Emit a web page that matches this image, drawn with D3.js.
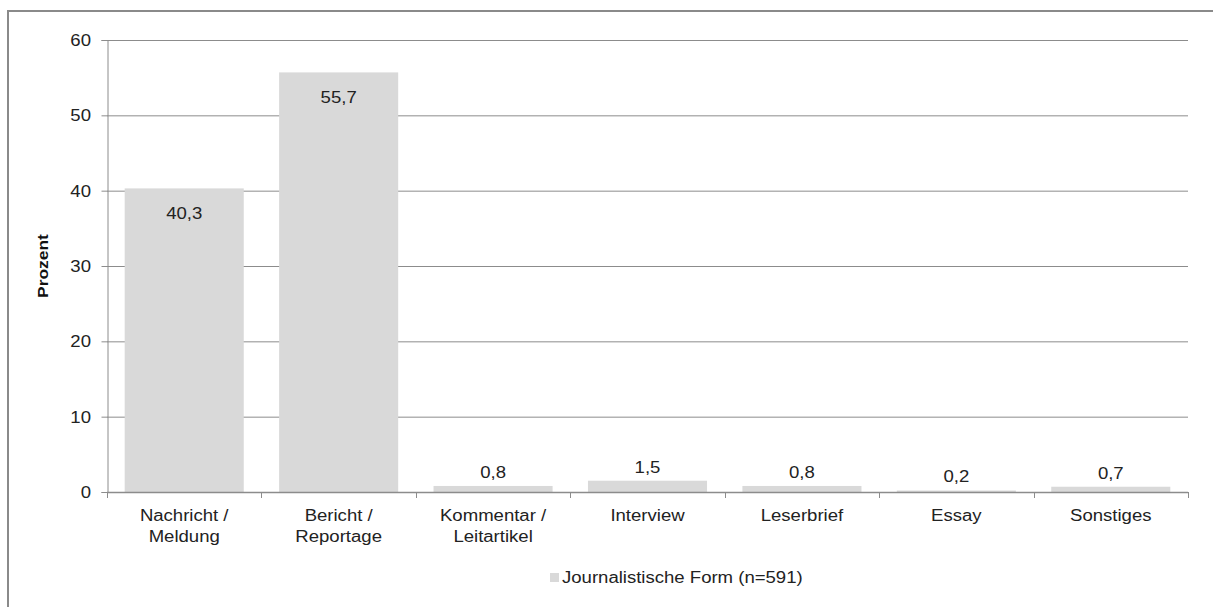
<!DOCTYPE html>
<html>
<head>
<meta charset="utf-8">
<script src="https://cdn.jsdelivr.net/npm/d3@7"></script>
<style>
  html, body { margin: 0; padding: 0; background: #fff; }
  svg { display: block; font-family: "Liberation Sans", Arial, sans-serif; }
</style>
</head>
<body>
<svg id="chart" width="1213" height="607"></svg>
<script>
// Journalistische Form der Beiträge, Anteile in Prozent
const categories = [
  ["Nachricht /", "Meldung"],
  ["Bericht /", "Reportage"],
  ["Kommentar /", "Leitartikel"],
  ["Interview"],
  ["Leserbrief"],
  ["Essay"],
  ["Sonstiges"]
];
const values = [40.3, 55.7, 0.8, 1.5, 0.8, 0.2, 0.7];
const yTicks = [0, 10, 20, 30, 40, 50, 60];
const seriesName = "Journalistische Form (n=591)";
const yTitle = "Prozent";

const svg = d3.select("#chart");
const plot = { left: 107, right: 1188, top: 40, bottom: 492 };
const fmt = v => d3.format(".1f")(v).replace(".", ",");
const FS = 16;        // base font size
const SX = 1.16;      // horizontal widening of the lettering
const TXT = "#222";

// text helper: place at (x, y) with widened glyphs
function label(parent, x, y, str, anchor, opts = {}) {
  return parent.append("text")
    .attr("transform", `translate(${x},${y}) scale(${SX},1)`)
    .attr("text-anchor", anchor)
    .attr("font-size", opts.size || FS)
    .attr("font-weight", opts.weight || "normal")
    .attr("fill", opts.fill || TXT)
    .text(str);
}

const x = d3.scaleBand()
  .domain(d3.range(categories.length))
  .range([plot.left, plot.right])
  .paddingInner(0.229)
  .paddingOuter(0.1145);

const y = d3.scaleLinear().domain([0, 60]).range([plot.bottom, plot.top]);

// outer frame (top and left edges visible)
svg.append("path")
  .attr("d", `M8,607 L8,11 L1213,11`)
  .attr("fill", "none")
  .attr("stroke", "#8a8a8a")
  .attr("stroke-width", 2);

// horizontal gridlines
svg.append("g")
  .selectAll("line")
  .data(yTicks.filter(t => t > 0))
  .join("line")
  .attr("x1", plot.left).attr("x2", plot.right)
  .attr("y1", d => y(d) + 0.5).attr("y2", d => y(d) + 0.5)
  .attr("stroke", "#8c8c8c")
  .attr("stroke-width", 1);

// bars
svg.append("g")
  .selectAll("rect")
  .data(values)
  .join("rect")
  .attr("x", (d, i) => x(i))
  .attr("width", x.bandwidth())
  .attr("y", d => y(d))
  .attr("height", d => y(0) - y(d))
  .attr("fill", "#d9d9d9");

// y axis (line and ticks from d3, labels widened)
const yAxis = svg.append("g")
  .attr("transform", `translate(${plot.left + 0.5},0)`)
  .call(d3.axisLeft(y).tickValues(yTicks).tickSize(6).tickFormat(""));
yAxis.select(".domain").attr("stroke", "#8c8c8c");
yAxis.selectAll(".tick line").attr("stroke", "#8c8c8c");
const yLab = svg.append("g");
yTicks.forEach(t => label(yLab, 91, y(t) + 6, String(t), "end"));

// x axis: line with tick marks at category boundaries
const boundaries = d3.range(categories.length + 1)
  .map(i => plot.left + i * (plot.right - plot.left) / categories.length);
svg.append("line")
  .attr("x1", plot.left).attr("x2", plot.right)
  .attr("y1", plot.bottom + 0.5).attr("y2", plot.bottom + 0.5)
  .attr("stroke", "#8c8c8c")
  .attr("stroke-width", 1.5);
svg.append("g")
  .selectAll("line")
  .data(boundaries)
  .join("line")
  .attr("x1", d => Math.round(d) + 0.5).attr("x2", d => Math.round(d) + 0.5)
  .attr("y1", plot.bottom).attr("y2", plot.bottom + 6)
  .attr("stroke", "#8c8c8c");

// category labels
const catG = svg.append("g");
categories.forEach((lines, i) => {
  const cx = x(i) + x.bandwidth() / 2;
  lines.forEach((ln, j) => label(catG, cx, 521 + j * 21, ln, "middle"));
});

// value labels: inside the top for tall bars, above for short ones
const valG = svg.append("g");
values.forEach((v, i) => {
  const cx = x(i) + x.bandwidth() / 2;
  label(valG, cx, v > 10 ? y(v) + 31 : y(v) - 8, fmt(v), "middle");
});

// y axis title
svg.append("text")
  .attr("transform", `translate(48,${(plot.top + plot.bottom) / 2}) rotate(-90) scale(${SX},1)`)
  .attr("text-anchor", "middle")
  .attr("font-size", 15)
  .attr("font-weight", "bold")
  .attr("fill", "#111")
  .text(yTitle);

// legend
const lg = svg.append("g");
lg.append("rect")
  .attr("x", 550).attr("y", 573)
  .attr("width", 9).attr("height", 9)
  .attr("fill", "#d9d9d9");
label(lg, 562, 583, seriesName, "start");
</script>
</body>
</html>
